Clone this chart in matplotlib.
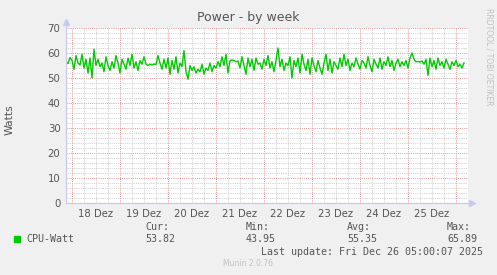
import numpy as np
import matplotlib
matplotlib.use('Agg')
from matplotlib import pyplot as plt

# hourly samples, hour 0 = 18 Dez 00:00, first sample at -3h
watts = [56.5, 55.8, 58.2, 57.0, 53.5, 59.0, 56.0, 55.2, 59.5, 54.0,
         57.5, 52.0, 58.0, 50.0, 61.5, 55.0, 57.5, 54.5, 56.0, 52.5,
         58.5, 55.0, 53.0, 56.5, 54.0, 59.0, 56.0, 52.0, 57.5, 55.5,
         53.5, 58.0, 55.0, 59.5, 54.0, 56.5, 53.0, 57.0, 55.5, 58.5,
         55.5, 55.0, 55.5, 55.2, 55.6, 55.4, 59.0, 56.0, 53.5, 57.5,
         54.0, 58.0, 51.5, 57.0, 53.5, 58.5, 52.0, 56.0, 54.5, 61.0,
         52.5, 49.5, 55.0, 53.0, 54.5, 52.0, 53.5, 52.5, 55.5, 51.5,
         54.0, 53.0, 56.0, 52.5, 55.0, 54.0, 56.5, 54.5, 58.5, 55.0,
         59.5, 52.0, 57.0, 57.2, 57.0, 56.5, 56.8, 54.0, 58.5, 55.0,
         51.5, 58.0, 54.5, 57.5, 53.0, 58.0, 55.5, 56.0, 53.5, 57.5,
         55.0, 59.0, 54.0, 56.5, 52.5, 57.0, 62.0, 54.5, 57.5, 53.0,
         56.0, 55.0, 58.5, 50.0, 57.0, 54.5, 58.0, 52.0, 59.5, 55.5,
         53.0, 57.5, 51.5, 58.0, 55.0, 52.5, 57.0, 54.0, 51.5, 56.0,
         59.5, 53.0, 57.5, 52.0, 56.5, 55.0, 53.5, 58.0, 54.5, 59.5,
         55.0, 57.5, 53.0, 56.0, 54.5, 58.0, 55.5, 53.5, 57.0, 56.0,
         54.0, 58.5, 55.0, 52.5, 57.5, 55.5, 54.0, 58.0, 53.5, 56.5,
         55.0, 58.5, 54.5, 57.0, 53.0, 56.0, 57.5, 54.5, 56.5, 55.0,
         57.0, 54.0, 58.0, 60.0, 57.5, 56.5, 56.6, 56.4, 56.8, 55.5,
         57.5, 51.0, 58.0, 54.5, 57.0, 53.5, 58.0, 55.0, 56.5, 54.0,
         57.5, 55.5, 53.5, 56.5, 55.0, 57.0, 54.5, 55.5, 54.0, 56.0]
hours = np.arange(len(watts)) - 3

day_labels = ['18 Dez', '19 Dez', '20 Dez', '21 Dez', '22 Dez', '23 Dez', '24 Dez', '25 Dez']
stats_head = ['Cur:', 'Min:', 'Avg:', 'Max:']
stats_vals = ['53.82', '43.95', '55.35', '65.89']

W, H = 497, 275
fig = plt.figure(figsize=(W / 100, H / 100), dpi=100, facecolor='#F0F0F0')
ax = fig.add_axes([66 / W, 72 / H, 402 / W, 175 / H])
ax.set_facecolor('white')
ax.set_xlim(-3, 198)
ax.set_ylim(0, 70)

txt = '#555555'
minor = '#C4C4C4'
major = '#E89494'

# grid
for h in range(-0, 198, 6):
    if h % 24:
        ax.axvline(h, color=minor, lw=0.6, ls=(0, (1, 1.2)), zorder=1)
for v in range(2, 70, 2):
    if v % 10:
        ax.axhline(v, color=minor, lw=0.6, ls=(0, (1, 1.2)), zorder=1)
for h in range(0, 198, 24):
    ax.axvline(h, color=major, lw=0.7, ls=(0, (1, 1.2)), zorder=2)
for v in range(10, 71, 10):
    ax.axhline(v, color=major, lw=0.7, ls=(0, (1, 1.2)), zorder=2)

ax.plot(hours, watts, color='#00CC00', lw=1.0, zorder=3)

for s in ax.spines.values():
    s.set_visible(False)
axc = '#C8C8F4'
ax.plot([-3, -3], [0, 72.5], color=axc, lw=0.9, clip_on=False, zorder=4)
ax.plot([-3, 200], [0, 0], color=axc, lw=0.9, clip_on=False, zorder=4)
ax.plot([-3], [72.5], marker='^', ms=4.5, color=axc, clip_on=False, zorder=4)
ax.plot([200], [0], marker='>', ms=4.5, color=axc, clip_on=False, zorder=4)

ax.set_xticks([12 + 24 * i for i in range(len(day_labels))])
ax.set_xticklabels(day_labels)
ax.set_yticks(range(0, 71, 10))
ax.tick_params(length=0, labelsize=7.3, colors=txt, pad=4)

fig.text(248 / W, 1 - 18 / H, 'Power - by week', ha='center', va='center',
         fontsize=9, color=txt)
fig.text(10 / W, 1 - 120 / H, 'Watts', rotation=90, ha='center', va='center',
         fontsize=7.8, color=txt)
fig.text(489 / W, 1 - 8 / H, 'RRDTOOL / TOBI OETIKER', rotation=270, ha='center',
         va='top', fontsize=5.5, color='#C0C0C0')

mono = 'DejaVu Sans Mono'
fig.patches.append(plt.Rectangle((14 / W, 1 - 242 / H), 6 / W, 6 / H,
                                 transform=fig.transFigure, color='#00CC00'))
fig.text(26 / W, 1 - 239 / H, 'CPU-Watt', family=mono, fontsize=7.2, color=txt, va='center')
for i, (hd, val) in enumerate(zip(stats_head, stats_vals)):
    x = [145, 246, 347, 447][i]
    fig.text(x / W, 1 - 227 / H, hd, family=mono, fontsize=7.2, color=txt, va='center')
    fig.text(x / W, 1 - 239 / H, val, family=mono, fontsize=7.2, color=txt, va='center')
fig.text(483 / W, 1 - 252 / H, 'Last update: Fri Dec 26 05:00:07 2025', family=mono,
         fontsize=7.2, color=txt, ha='right', va='center')
fig.text(248 / W, 1 - 264 / H, 'Munin 2.0.76', fontsize=5.5, color='#C0C0C0',
         ha='center', va='center')

fig.savefig('out.png', dpi=100, facecolor=fig.get_facecolor())
